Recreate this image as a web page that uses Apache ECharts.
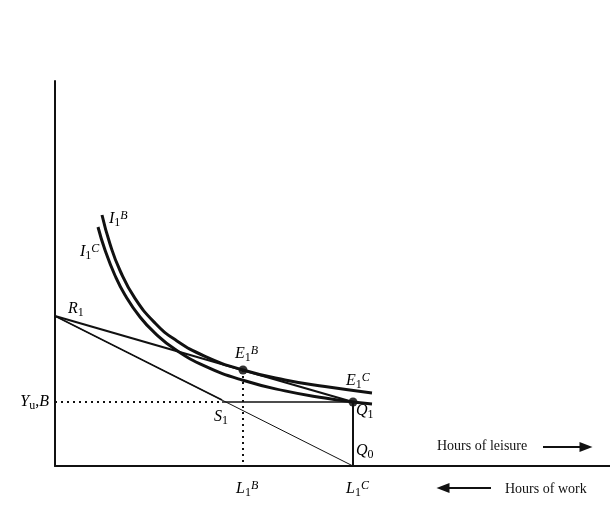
<!DOCTYPE html>
<html>
  <head>
  <meta charset="utf-8">
    <script type="text/javascript" src="https://cdn.jsdelivr.net/npm/echarts@6/dist/echarts.min.js"></script>
  </head>
 <body style="margin:0">
     <div id="main" style="width:610px;height:513px;"></div>
     <script type="text/javascript">
    // curves (x = leisure, y = income, in axis units)
    var curveB = [[47,251],[55,222],[65,195.5],[80,167.6],[100,143],[120,126.4],[150,109.7],[188,96],[230,86],[270,79.4],[317,73]];
    var curveC = [[43,239],[50,216],[60,190.5],[70,171],[85,149],[100,132.8],[120,116.7],[150,99.9],[188,85.7],[230,75.1],[270,67.9],[298,64],[317,62]];
    var budgetR1Q1 = [[0,150],[298,64]];
    var budgetR1Q0 = [[0,150],[298,0]];
    var budgetR1S1 = [[0,150],[167,66]];
    var lineS1Q1 = [[167,64],[298,64]];
    var dotYu = [[0,64],[167,64]];
    var lineQ1Q0 = [[298,64],[298,0]];
    var dotE1B = [[188,96],[188,0]];
    var points = [[188,96],[298,64]];
    var arrowLeisure = [[488,19],[531,19]];
    var arrowWork = [[436,-22],[388,-22]];

    var myChart = echarts.init(document.getElementById('main'));
    var serif = '"Liberation Serif", "DejaVu Serif", serif';
    var rich = {
        i: {fontStyle: 'italic', fontSize: 16, fontFamily: serif, color: '#111', lineHeight: 19},
        n: {fontSize: 16, fontFamily: serif, color: '#111', lineHeight: 19},
        s: {fontSize: 12, fontFamily: serif, color: '#111', verticalAlign: 'bottom', lineHeight: 13},
        p: {fontStyle: 'italic', fontSize: 12, fontFamily: serif, color: '#111', verticalAlign: 'top', lineHeight: 13}
    };
    function lbl(x, y, text, align) {
        return {
            type: 'text', x: x, y: y,
            style: {text: text, rich: rich, align: align || 'left', verticalAlign: 'middle', font: '16px ' + serif}
        };
    }
    function seg(data, width, type) {
        return {
            type: 'line', data: data, symbol: 'none', silent: true,
            lineStyle: {color: '#111', width: width, type: type || 'solid'}
        };
    }
    function arrow(data, rot) {
        return {
            type: 'line', clip: false, silent: true,
            data: [{value: data[0], symbol: 'none'}, {value: data[1], symbol: 'triangle', symbolSize: [10, 13], symbolRotate: rot}],
            itemStyle: {color: '#111'},
            lineStyle: {color: '#111', width: 2}
        };
    }

    var option = {
        animation: false,
        grid: {left: 55, right: 0, top: 81, bottom: 47},
        xAxis: {
            type: 'value', min: 0, max: 555,
            axisLine: {lineStyle: {color: '#111', width: 2}},
            axisTick: {show: false}, axisLabel: {show: false}, splitLine: {show: false}
        },
        yAxis: {
            type: 'value', min: 0, max: 385,
            axisLine: {show: true, lineStyle: {color: '#111', width: 2}},
            axisTick: {show: false}, axisLabel: {show: false}, splitLine: {show: false}
        },
        series: [
            {type: 'line', data: curveB, smooth: true, symbol: 'none', silent: true, lineStyle: {color: '#111', width: 3}},
            {type: 'line', data: curveC, smooth: true, symbol: 'none', silent: true, lineStyle: {color: '#111', width: 3}},
            seg(budgetR1Q1, 2),
            seg(budgetR1Q0, 1),
            seg(budgetR1S1, 1.6),
            seg(lineS1Q1, 1.6),
            seg(dotYu, 2, [2, 4]),
            seg(lineQ1Q0, 2),
            seg(dotE1B, 2, [2, 4]),
            {type: 'scatter', data: points, symbolSize: 9, silent: true, itemStyle: {color: '#000'}},
            arrow(arrowLeisure, -90),
            arrow(arrowWork, 90)
        ],
        graphic: [
            lbl(109, 219, '{i|I}{s|1}{p|B}'),
            lbl(80, 252, '{i|I}{s|1}{p|C}'),
            lbl(68, 309, '{i|R}{s|1}'),
            lbl(235, 354, '{i|E}{s|1}{p|B}'),
            lbl(346, 381, '{i|E}{s|1}{p|C}'),
            lbl(49, 402, '{i|Y}{s|u}{n|,}{i|B}', 'right'),
            lbl(214, 417, '{i|S}{s|1}'),
            lbl(356, 411, '{i|Q}{s|1}'),
            lbl(356, 451, '{i|Q}{s|0}'),
            lbl(236, 489, '{i|L}{s|1}{p|B}'),
            lbl(346, 489, '{i|L}{s|1}{p|C}'),
            {type: 'text', x: 437, y: 446, style: {text: 'Hours of leisure', font: '14px ' + serif, fill: '#111', verticalAlign: 'middle'}},
            {type: 'text', x: 505, y: 489, style: {text: 'Hours of work', font: '14px ' + serif, fill: '#111', verticalAlign: 'middle'}}
        ]
    };
    myChart.setOption(option);
    </script>
  </body>
</html>
